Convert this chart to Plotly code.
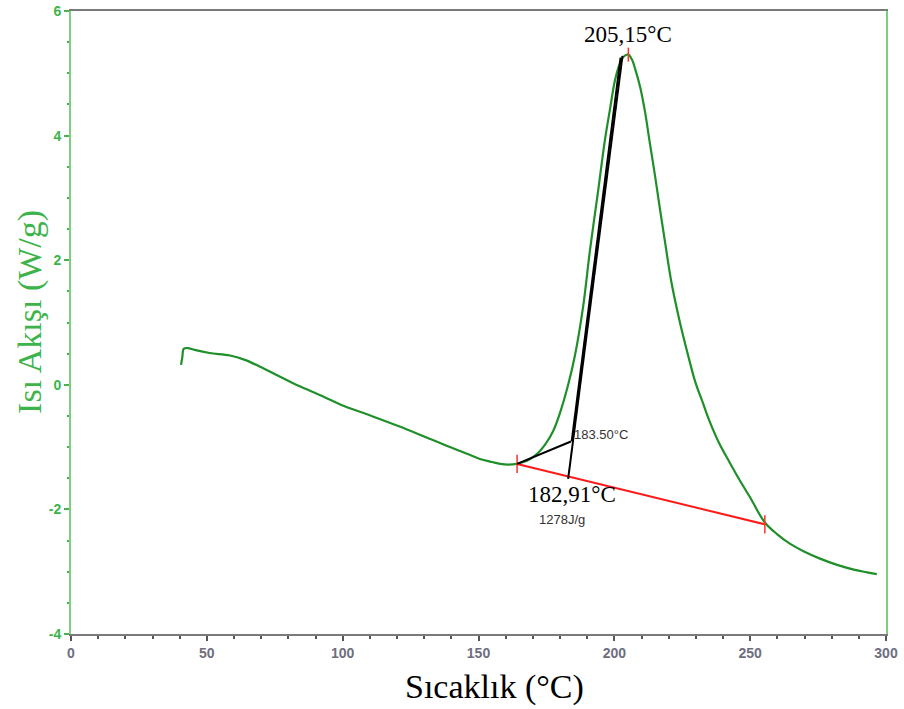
import plotly.graph_objects as go

# DSC curve: temperature (°C) and heat flow (W/g)
temp = [40.5, 41.0, 41.5, 43.0, 45.5, 51.0, 58.5, 64.0, 69.6, 77.0, 84.0, 92.0, 100.5, 110.0,
        121.0, 130.0, 139.5, 146.0, 150.5, 155.0, 158.0, 161.0, 164.0, 166.5, 169.0, 172.0,
        174.5, 177.5, 180.0, 183.0, 185.5, 188.5, 191.0, 194.0, 196.5, 198.5, 200.2, 202.0,
        203.5, 205.15, 206.5, 207.6, 209.5, 211.3, 213.0, 215.0, 216.8, 218.6, 221.0, 224.0,
        227.0, 229.7, 232.5, 235.0, 238.5, 242.5, 246.0, 250.0, 255.4, 260.0, 264.6, 270.0,
        275.7, 282.0, 288.5, 293.0, 296.6]
heat = [0.32, 0.45, 0.58, 0.59, 0.56, 0.51, 0.47, 0.40, 0.29, 0.13, -0.02, -0.17, -0.34, -0.49,
        -0.67, -0.83, -1.00, -1.11, -1.19, -1.24, -1.27, -1.28, -1.27, -1.24, -1.19, -1.09,
        -0.96, -0.74, -0.45, 0.00, 0.47, 1.25, 2.15, 3.10, 3.92, 4.45, 4.88, 5.15,
        5.27, 5.30, 5.22, 5.08, 4.78, 4.38, 3.90, 3.35, 2.82, 2.31, 1.65, 1.03,
        0.50, 0.06, -0.28, -0.58, -0.93, -1.25, -1.52, -1.81, -2.21, -2.40, -2.55, -2.68,
        -2.79, -2.89, -2.97, -3.01, -3.04]

# Integration baseline (red)
base_t = [164.2, 255.4]
base_h = [-1.27, -2.24]

# Onset construction lines (black)
tan1_t = [164.2, 184.0]
tan1_h = [-1.27, -0.91]
tan2_t = [183.0, 203.0]
tan2_h = [-1.51, 5.28]
tan3_t = [184.3, 202.3]
tan3_h = [-0.91, 5.25]

peak_t = [205.15]
peak_h = [5.30]

# Tick labels
y_tickvals = [-4, -2, 0, 2, 4, 6]
y_ticktext = ["-4", "-2", "0", "2", "4", "6"]
x_tickvals = [0, 50, 100, 150, 200, 250, 300]

green = "#1f8f2a"
axis_green = "#7ccf7c"
label_green = "#3cb44b"

fig = go.Figure()
fig.add_trace(go.Scatter(x=temp, y=heat, mode="lines", line=dict(color=green, width=2.2),
                         line_shape="spline", hoverinfo="skip"))
fig.add_trace(go.Scatter(x=base_t, y=base_h, mode="lines+markers",
                         line=dict(color="#ff1a1a", width=2),
                         marker=dict(symbol="line-ns-open", size=13, color="#ff3030",
                                     line=dict(color="#ff3030", width=1.5))))
for tx, ty in [(tan1_t, tan1_h), (tan2_t, tan2_h), (tan3_t, tan3_h)]:
    fig.add_trace(go.Scatter(x=tx, y=ty, mode="lines", line=dict(color="black", width=2)))
fig.add_trace(go.Scatter(x=peak_t, y=peak_h, mode="markers",
                         marker=dict(symbol="line-ns-open", size=10, color="#ff3030",
                                     line=dict(color="#ff3030", width=1.5))))

fig.add_annotation(x=205.15, y=5.3, text="205,15°C", showarrow=False, yshift=20,
                   font=dict(family="Liberation Serif", size=23, color="black"))
fig.add_annotation(x=tan1_t[1], y=tan1_h[1], text="183.50°C", showarrow=False,
                   xanchor="left", xshift=1, yshift=7,
                   font=dict(family="Liberation Sans", size=13, color="#333333"))
fig.add_annotation(x=tan2_t[0], y=tan2_h[0], text="182,91°C", showarrow=False,
                   yshift=-16, xshift=4,
                   font=dict(family="Liberation Serif", size=23, color="black"))
fig.add_annotation(x=tan2_t[0], y=tan2_h[0], text="1278J/g", showarrow=False,
                   yshift=-41, xshift=-6,
                   font=dict(family="Liberation Sans", size=13, color="#333333"))

# Axis titles
fig.add_annotation(xref="paper", yref="paper", x=0.52, y=0, yshift=-53, text="Sıcaklık (°C)",
                   showarrow=False, yanchor="middle",
                   font=dict(family="Liberation Serif", size=34, color="black"))
fig.add_annotation(xref="paper", yref="paper", x=0, xshift=-41, y=0.517, text="Isı Akışı (W/g)",
                   showarrow=False, textangle=-90, xanchor="center", yanchor="middle",
                   font=dict(family="Liberation Serif", size=34, color=label_green))

fig.update_layout(
    width=904, height=709,
    margin=dict(l=71, r=18, t=11, b=75),
    plot_bgcolor="white", paper_bgcolor="white",
    showlegend=False,
    xaxis=dict(range=[0, 300], tickvals=x_tickvals, showgrid=False, zeroline=False,
               automargin=False, ticklabeloverflow="allow",
               showline=True, linecolor="#7a7a7a", linewidth=2, mirror=True,
               ticks="outside", ticklen=5, tickcolor="#555555", tickwidth=2,
               minor=dict(dtick=10, tick0=0, ticks="outside", ticklen=3, tickcolor="#555555", tickwidth=2),
               tickfont=dict(family="Liberation Sans", size=14, color="#6e6e80", weight="bold")),
    yaxis=dict(range=[-4, 6], tickvals=y_tickvals, ticktext=y_ticktext, showgrid=False,
               zeroline=False, automargin=False, ticklabeloverflow="allow",
               showline=True, linecolor=axis_green, linewidth=2, mirror=True,
               ticks="outside", ticklen=5, tickcolor="#4caf50", tickwidth=2,
               minor=dict(dtick=0.5, tick0=0, ticks="outside", ticklen=2, tickcolor="#4caf50", tickwidth=2),
               tickfont=dict(family="Liberation Sans", size=14, color=label_green, weight="bold")),
)
# remove the default 8px page margin so the chart fills the window exactly
fig.write_html("out.html", config={"displayModeBar": False},
               post_script="document.body.style.margin='0px';document.body.style.overflow='hidden';")
